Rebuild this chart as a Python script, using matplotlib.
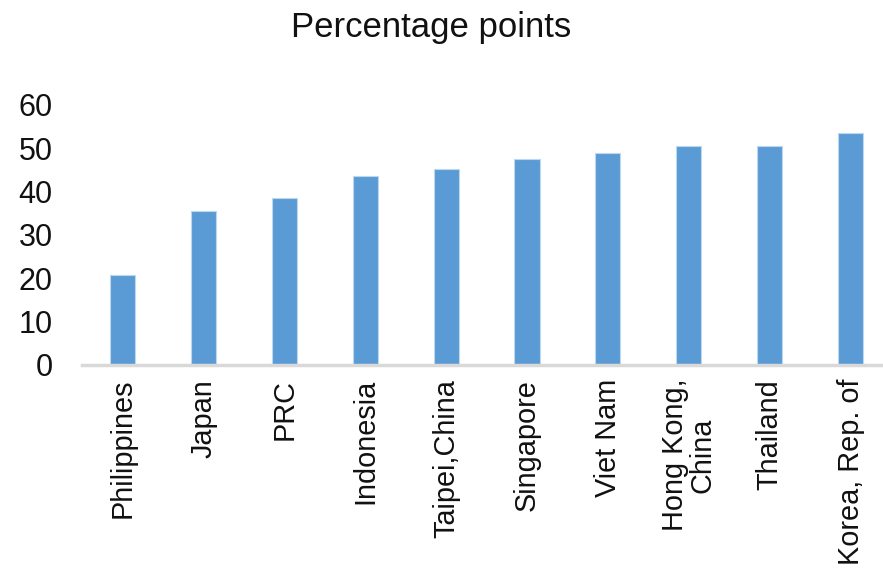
import matplotlib
matplotlib.use("Agg")
import matplotlib.pyplot as plt
import numpy as np

# values
countries = ['Philippines', 'Japan', 'PRC', 'Indonesia', 'Taipei,China',
             'Singapore', 'Viet Nam', 'Hong Kong,\nChina', 'Thailand', 'Korea, Rep. of']
values = [20.7, 35.5, 38.5, 43.6, 45.3, 47.5, 48.9, 50.5, 50.5, 53.5]
yticks = [0, 10, 20, 30, 40, 50, 60]

plt.rcParams['font.family'] = ['Liberation Sans', 'DejaVu Sans']

fig = plt.figure(figsize=(8.83, 5.72), dpi=100)
ax = fig.add_axes([82 / 883, 0.362, 1 - 82 / 883, 0.4545])

x = np.arange(len(countries))
ax.bar(x, values, width=0.31, color='#5B9BD5', edgecolor='#BDD7EE', linewidth=0.8, zorder=2)

ax.set_xlim(-0.5, 9.4)
ax.set_ylim(0, 60)
ax.set_yticks(yticks)
ax.set_xticks(x)
ax.set_xticklabels(countries, rotation=90, va='top', ha='center', fontsize=20.8,
                   color='#111111', linespacing=1.0)
ax.tick_params(axis='y', length=0, pad=21, labelsize=22, labelcolor='#111111')
ax.tick_params(axis='x', length=0, pad=10)

for s in ['top', 'right', 'left']:
    ax.spines[s].set_visible(False)
ax.spines['bottom'].set_color('#D9D9D9')
ax.spines['bottom'].set_linewidth(2.5)

fig.text(431 / 883, 1 - 27 / 572, 'Percentage points', ha='center', va='center',
         fontsize=25, color='#111111')

fig.savefig('out.png', dpi=100)
